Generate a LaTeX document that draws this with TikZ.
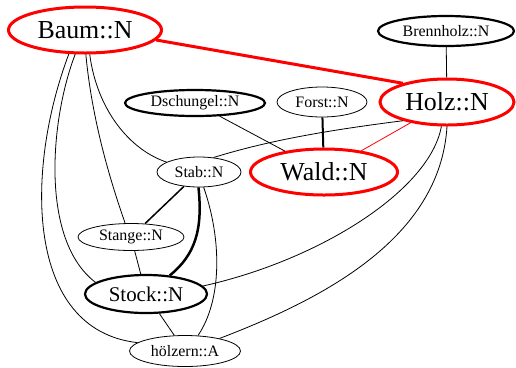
\documentclass[tikz,border=0pt]{standalone}
\usepackage{fontspec}
\setmainfont{Liberation Serif}
\definecolor{hlred}{RGB}{255,0,0}
\usetikzlibrary{shapes.geometric}

\begin{document}
\begin{tikzpicture}[x=1bp,y=-1bp,
  el/.style={draw,ellipse,inner sep=0pt,line width=0.8bp,font=\fontsize{16}{18}\selectfont},
  elb/.style={el,line width=2.2bp},
  elr/.style={el,draw=hlred,line width=3bp,font=\fontsize{26}{30}\selectfont},
  ln/.style={line width=0.8bp}]
  \useasboundingbox (0,0) rectangle (516,367);
  % nodes
  \node[elr,minimum width=153bp,minimum height=46bp] (baum) at (85,30) {Baum::N};
  \node[elb,minimum width=136bp,minimum height=30bp] (brennholz) at (446,31) {Brennholz::N};
  \node[elr,minimum width=134bp,minimum height=46bp] (holz) at (447,102) {Holz::N};
  \node[el,minimum width=90bp,minimum height=30bp] (forst) at (322,102) {Forst::N};
  \node[elb,minimum width=140bp,minimum height=26bp] (dschungel) at (195,103) {Dschungel::N};
  \node[elr,minimum width=147bp,minimum height=46bp] (wald) at (324,172) {Wald::N};
  \node[el,minimum width=84bp,minimum height=30bp] (stab) at (199,172) {Stab::N};
  \node[el,minimum width=106bp,minimum height=27bp] (stange) at (131,237) {Stange::N};
  \node[elb,minimum width=122bp,minimum height=38bp,font=\fontsize{21}{24}\selectfont] (stock) at (146,294) {Stock::N};
  \node[el,minimum width=111bp,minimum height=31bp] (hoelzern) at (185,351) {hölzern::A};
  % edges
  \draw[hlred,line width=3bp] (baum.-8) -- (holz.157);
  \draw[ln] (brennholz) -- (holz);
  \draw[ln] (dschungel) -- (wald);
  \draw[line width=2bp] (forst) -- (wald);
  \draw[ln,hlred] (holz) -- (wald);
  \draw[ln] (holz.203) .. controls (330,130) and (270,140) .. (stab.45);
  \draw[ln] (holz.257) .. controls (430,190) and (320,260) .. (stock.8);
  \draw[ln] (holz.270) .. controls (440,240) and (320,300) .. (hoelzern.20);
  \draw[ln] (baum.236) .. controls (25,170) and (25,330) .. (hoelzern.170);
  \draw[ln] (baum.248) .. controls (50,120) and (40,240) .. (stock.167);
  \draw[ln] (baum.272) .. controls (92,120) and (110,180) .. (stange.113);
  \draw[ln] (baum.281) .. controls (97,110) and (130,150) .. (stab.163);
  \draw[line width=1.5bp] (stab) -- (stange);
  \draw[line width=2.5bp] (stab.268) .. controls (203,230) and (195,255) .. (stock.38);
  \draw[ln] (stab.287) .. controls (222,240) and (222,300) .. (hoelzern.50);
  \draw[ln] (stange) -- (stock);
  \draw[ln] (stock) -- (hoelzern);
\end{tikzpicture}
\end{document}
